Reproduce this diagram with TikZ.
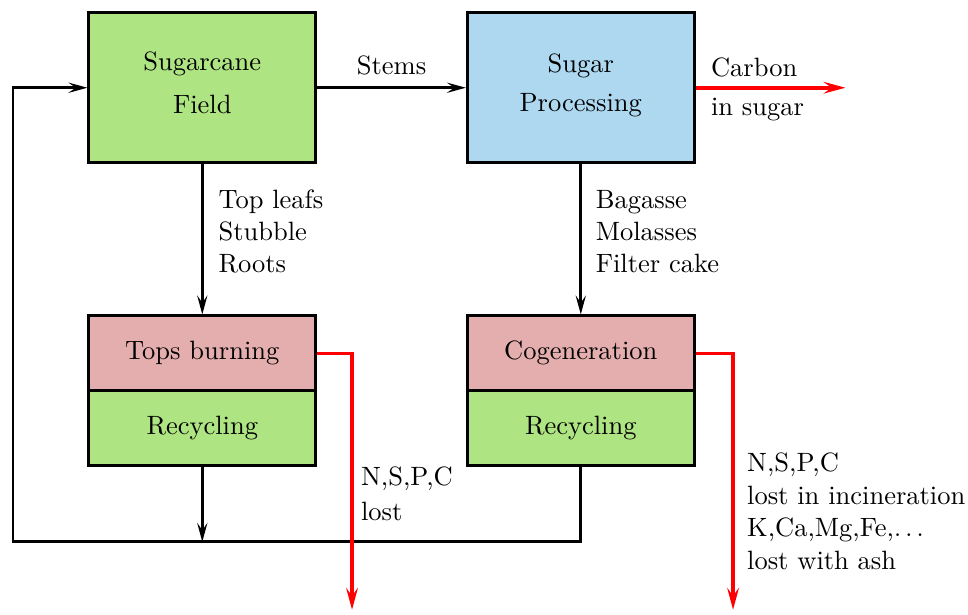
\documentclass[tikz,border=0pt]{standalone}
\usepackage{fontspec}
\usetikzlibrary{arrows.meta}
\definecolor{fieldgreen}{RGB}{174,228,130}
\definecolor{procblue}{RGB}{174,216,240}
\definecolor{burnpink}{RGB}{228,174,174}
\begin{document}
\begin{tikzpicture}[
	every node/.style={font=\fontsize{10.4pt}{12.5pt}\selectfont},
	bigbox/.style={draw, line width=1.1pt, minimum width=3.13cm, minimum height=2.07cm, align=center},
	halfbox/.style={draw, line width=1.1pt, minimum width=3.13cm, minimum height=1.034cm},
	flow/.style={line width=1.1pt, -{Stealth[length=2.6mm, width=1.4mm, inset=1mm]}},
	loss/.style={red, line width=1.4pt, -{Stealth[length=3mm, width=1.6mm, inset=1.1mm]}},
	lbl/.style={align=left, text=black}]
\useasboundingbox (0,0) rectangle (13.35,8.48);
\node[bigbox, fill=fieldgreen](field) at (2.79,7.27) {Sugarcane\\[4.5pt]Field\\[-8.5pt]};
\node[bigbox, fill=procblue](proc) at (8.01,7.27) {Sugar\\[3pt]Processing\\[-8.5pt]};
\node[halfbox, fill=burnpink](burn) at (2.79,3.607) {Tops burning};
\node[halfbox, fill=fieldgreen](recycL) at (2.79,2.572) {Recycling};
\node[halfbox, fill=burnpink](cogen) at (8.01,3.607) {Cogeneration};
\node[halfbox, fill=fieldgreen](recycR) at (8.01,2.572) {Recycling};
\coordinate (loopSW) at (0.179,1.007);
\coordinate (carbonend) at (11.66,7.27);
\coordinate (burnout) at (4.855,0.07);
\coordinate (cogenout) at (10.11,0.07);
% main flows
\draw[flow] (field) -- node[above, yshift=1pt](stems){Stems} (proc);
\draw[flow] (field) -- node[right, lbl, xshift=2.5pt, yshift=3pt](residues){Top leafs\\Stubble\\Roots} (burn);
\draw[flow] (proc) -- node[right, lbl, xshift=2pt, yshift=3pt](byprod){Bagasse\\Molasses\\Filter cake} (cogen);
% recycling loop
\draw[flow] (recycR.south) |- (loopSW) |- (field.west);
\draw[flow] (recycL.south) -- (recycL.south |- loopSW);
% losses
\draw[loss] (proc.east) -- node[pos=0, above right, lbl, xshift=2pt](carbon){Carbon} node[pos=0, below right, lbl, xshift=2pt](insugar){in sugar} (carbonend);
\draw[loss] (burn.east) -| (burnout);
\draw[loss] (cogen.east) -| (cogenout);
\node[lbl, anchor=west](burnloss) at (4.855,1.67) {N,S,P,C\\[1pt]lost};
\node[lbl, anchor=west, xshift=2pt](cogenloss) at (10.11,1.43) {N,S,P,C\\[0.5pt]lost in incineration\\K,Ca,Mg,Fe,$\ldots$\\[0.5pt]lost with ash};
\end{tikzpicture}
\end{document}
